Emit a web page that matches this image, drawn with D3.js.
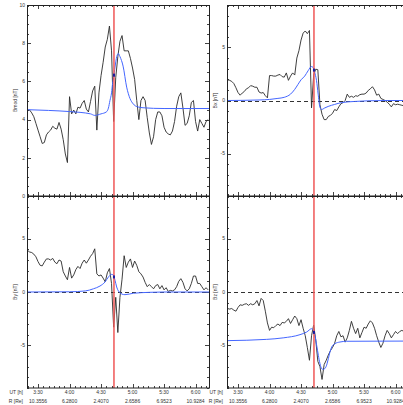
<!DOCTYPE html>
<html>
<head>
<meta charset="utf-8">
<script src="https://cdn.jsdelivr.net/npm/d3@7"></script>
<style>
  html, body { margin: 0; padding: 0; background: #fff; }
  svg { display: block; }
  text { font-family: "Liberation Sans", Arial, sans-serif; font-size: 5px; fill: #333; }
</style>
</head>
<body>
<svg id="chart" width="403" height="405"></svg>
<script>
// measured field, one sample every 2 minutes from 03:20 UT (minutes after 03:00)
const obsMinutes = d3.range(20, 193, 2);

const bmodObs = [4.47, 4.5, 4.35, 4.15, 3.8, 3.45, 3.1, 2.75, 2.8, 3.2,
  3.35, 3.45, 3.65, 3.55, 3.5, 3.85, 3.5, 2.95, 2.2, 1.75,
  5.2, 4.3, 4.5, 4.3, 4.65, 4.6, 4.85, 5.0, 4.55, 4.4,
  4.95, 5.5, 5.75, 3.45, 5.4, 6.3, 7.0, 7.8, 8.2, 8.9,
  7.6, 3.9, 6.2, 7.3, 8.1, 8.4, 7.6, 7.6, 7.6, 7.2,
  6.7, 6.1, 5.0, 4.0, 5.0, 5.2, 5.0, 4.1, 3.3, 2.7,
  3.1, 4.0, 4.4, 4.4, 4.2, 3.6, 3.35, 3.25, 3.2, 3.4,
  3.9, 4.7, 5.2, 5.4, 4.6, 3.7, 3.8, 4.2, 4.9, 5.0,
  3.9, 3.4, 4.0, 3.8, 3.6, 3.9, 4.0];

const bxObs = [1.95, 1.9, 1.8, 1.6, 1.2, 0.75, 0.5, 0.7, 0.85, 1.1,
  1.2, 1.4, 1.35, 1.25, 1.25, 0.8, 0.7, 0.75, 0.45, 0.25,
  2.35, 2.35, 2.3, 2.3, 2.4, 2.45, 2.25, 2.2, 2.6, 1.9,
  2.3, 2.6, 2.4, 4.0, 4.7, 5.7, 6.35, 6.55, 6.3, 6.6,
  -0.7, 2.4, 2.95, 2.9, -0.4, -1.3, -1.8, -1.8, -1.5, -1.4,
  -1.2, -0.85, -0.95, -0.6, -0.3, -0.2, 0, 0.6, 0.3, 0.4,
  0.3, 0.45, 0.4, 0.55, 0.6, 0.6, 0.7, 0.95, 1.1, 1.3,
  1.0, 0.5, 0.6, 0.2, 0.1, 0, -0.15, -0.35, -0.6, -0.3,
  -0.4, -0.35, -0.4, -0.45, -0.5, -0.5, -0.55];

const byObs = [3.9, 3.75, 3.7, 3.55, 3.3, 2.85, 2.5, 2.45, 2.8, 3.1,
  3.1, 3.0, 3.15, 2.8, 2.65, 3.0, 2.9, 1.9, 1.5, 1.15,
  2.3, 1.3, 1.6, 2.1, 2.4, 2.2, 2.7, 3.0, 2.7, 3.0,
  3.35, 3.6, 4.05, 1.7, 1.5, 1.6, 1.3, 0.95, 1.8, 2.2,
  0.8, -3.3, -0.5, -3.8, -0.5, 1.2, 3.4, 2.3, 2.8, 3.1,
  2.3, 2.9, 2.5, 1.9, 1.7, 1.4, 0.9, 0.5, 0.7, 0.5,
  0.3, 0.6, 0.7, 0.3, 0.6, 0.2, 0.4, 0.05, 0.15, 0.1,
  0.2, 0.5, 1.0, 1.25, 0.9, 0.3, 0.1, 0.3, 0.8, 1.5,
  1.5, 0.8, 0.8, 0.5, 0.2, 0.4, 0.2];

const bzObs = [-1.55, -1.6, -1.55, -1.7, -1.8, -1.45, -1.2, -1.25, -1.15, -1.1,
  -1.25, -1.1, -1.2, -1.1, -0.8, -1.3, -0.6, -0.8, -1.8, -2.9,
  -3.6, -3.3, -3.35, -3.15, -3.0, -3.15, -2.85, -2.9, -2.75, -2.5,
  -2.95, -2.6, -2.25, -2.5, -3.15, -2.6, -3.4, -4.1, -5.2, -6.4,
  -4.1, -3.1, -4.5, -6.5, -7.0, -8.2, -6.8, -6.4, -5.9, -5.5,
  -5.2, -4.8, -4.1, -3.7, -4.2, -4.1, -4.7, -4.3, -3.6, -2.75,
  -3.4, -3.9, -3.4, -4.3, -3.8, -3.3, -3.4, -3.0, -2.7, -2.9,
  -3.4, -4.1, -4.7, -5.2, -4.8, -4.1, -3.6, -3.9, -4.3, -4.0,
  -3.7, -3.9, -3.7, -3.6, -3.7, -3.6, -3.7];

// model field (blue), knots as minutes after 03:00 and nT
const bmodModelT = [19.5, 40, 60, 80, 84, 90, 95, 97, 98.5, 100, 101, 102, 103.3, 105, 106.5, 108, 111, 114.4, 117.6, 120.7, 124, 130, 150, 193];
const bmodModel  = [4.52, 4.48, 4.42, 4.3, 4.22, 4.3, 4.4, 4.6, 5.0, 5.4, 5.9, 6.2, 6.75, 7.3, 7.46, 7.3, 6.8, 5.7, 5.1, 4.82, 4.68, 4.62, 4.58, 4.58];

const bxModelT = [19.5, 50, 60, 68, 74, 80, 84, 87, 90, 93.5, 96.7, 99.9, 101.5, 103, 104.7, 106.3, 107.9, 109.5, 112.6, 115.8, 122, 128.4, 141, 153.6, 170, 193];
const bxModel  = [0, 0.05, 0.1, 0.2, 0.3, 0.6, 1.05, 1.5, 1.95, 2.3, 2.8, 3.2, 3.1, 2.66, 1.9, 0.6, -0.6, -0.85, -0.7, -0.56, -0.37, -0.2, -0.09, -0.03, 0, 0];

const byModelT = [19.5, 60, 75, 82.7, 89, 93.8, 97, 100, 101.7, 103.3, 104.9, 106.5, 108, 110, 112.8, 120.7, 136.6, 150, 193];
const byModel  = [0, 0.02, 0.1, 0.3, 0.56, 0.94, 1.4, 1.65, 1.6, 1.1, 0.47, 0.1, -0.06, -0.2, -0.25, -0.12, -0.03, 0, 0];

const bzModelT = [19.5, 57.3, 73, 89, 95.4, 100.1, 101.7, 103.3, 104.9, 106.5, 108, 109.7, 111.3, 113.8, 116, 117.6, 119.2, 122.3, 127, 133.4, 193];
const bzModel  = [-4.56, -4.44, -4.3, -4.0, -3.75, -3.44, -3.6, -4.1, -5.0, -5.94, -6.7, -7.2, -7.25, -7.0, -6.25, -5.6, -5.16, -4.84, -4.69, -4.62, -4.6];

// axis labels
const utTicks  = [30, 60, 90, 120, 150, 180];
const utLabels = ["3:30", "4:00", "4:30", "5:00", "5:30", "6:00"];
const rLabels  = ["10.3556", "6.2800", "2.4070", "2.6586", "6.9523", "10.9284"];
const closestApproach = 102.3;
const timeDomain = [19.5, 192.8];

const svg = d3.select("#chart");
const W = 182;

const panels = [
    { name: "Bmod [nT]", x0: 27, y0: 5, h: 191, domain: [0, 10], major: [0, 2, 4, 6, 8, 10], minorStep: 0.5,
      obs: bmodObs, modelT: bmodModelT, model: bmodModel, zero: false, bottom: false },
    { name: "Bx [nT]", x0: 227, y0: 5, h: 191, domain: [-9, 9], major: [-5, 0, 5], minorStep: 1,
      obs: bxObs, modelT: bxModelT, model: bxModel, zero: true, bottom: false },
    { name: "By [nT]", x0: 27, y0: 196, h: 192, domain: [-9, 9], major: [-5, 0, 5], minorStep: 1,
      obs: byObs, modelT: byModelT, model: byModel, zero: true, bottom: true },
    { name: "Bz [nT]", x0: 227, y0: 196, h: 192, domain: [-9, 9], major: [-5, 0, 5], minorStep: 1,
      obs: bzObs, modelT: bzModelT, model: bzModel, zero: true, bottom: true }
];

panels.forEach((p, i) => {
    const x = d3.scaleLinear().domain(timeDomain).range([p.x0, p.x0 + W]);
    const y = d3.scaleLinear().domain(p.domain).range([p.y0 + p.h, p.y0]);
    const g = svg.append("g");

    g.append("clipPath").attr("id", "clip" + i)
        .append("rect")
        .attr("x", p.x0).attr("y", p.y0).attr("width", W).attr("height", p.h);

    // ticks on all four sides, pointing inward
    const xMinor = d3.range(20, 193, 5);
    const yMinor = d3.range(p.domain[0], p.domain[1] + 0.001, p.minorStep);
    const tk = g.append("g").attr("stroke", "#444").attr("stroke-width", 1);
    xMinor.forEach(m => {
        const len = utTicks.includes(m) ? 4 : 2;
        const xx = Math.round(x(m)) + 0.5;
        tk.append("line").attr("x1", xx).attr("x2", xx).attr("y1", p.y0).attr("y2", p.y0 + len);
        tk.append("line").attr("x1", xx).attr("x2", xx).attr("y1", p.y0 + p.h).attr("y2", p.y0 + p.h - len);
    });
    yMinor.forEach(v => {
        const len = p.major.some(m => Math.abs(m - v) < 1e-6) ? 4 : 2;
        const yy = Math.round(y(v)) + 0.5;
        tk.append("line").attr("x1", p.x0).attr("x2", p.x0 + len).attr("y1", yy).attr("y2", yy);
        tk.append("line").attr("x1", p.x0 + W).attr("x2", p.x0 + W - len).attr("y1", yy).attr("y2", yy);
    });

    // y tick labels and axis title
    g.selectAll("text.ylab")
        .data(p.major)
        .join("text")
        .attr("class", "ylab")
        .attr("x", p.x0 - 2)
        .attr("y", d => y(d))
        .attr("dy", "0.35em")
        .attr("text-anchor", "end")
        .text(d => d);

    g.append("text")
        .attr("transform", `translate(${p.x0 - 10}, ${p.y0 + p.h / 2}) rotate(-90)`)
        .attr("text-anchor", "middle")
        .text(p.name);

    const plot = g.append("g").attr("clip-path", `url(#clip${i})`);

    if (p.zero) {
        plot.append("line")
            .attr("x1", p.x0).attr("x2", p.x0 + W)
            .attr("y1", Math.round(y(0)) + 0.5).attr("y2", Math.round(y(0)) + 0.5)
            .attr("stroke", "#333").attr("stroke-width", 1)
            .attr("stroke-dasharray", "4,3");
    }

    // measured field
    const obsLine = d3.line().x((d, k) => x(obsMinutes[k])).y(d => y(d));
    plot.append("path")
        .attr("d", obsLine(p.obs))
        .attr("fill", "none")
        .attr("stroke", "#2a2a2a")
        .attr("stroke-width", 0.9);

    // model field
    const modelLine = d3.line().curve(d3.curveMonotoneX)
        .x((d, k) => x(p.modelT[k])).y(d => y(d));
    plot.append("path")
        .attr("d", modelLine(p.model))
        .attr("fill", "none")
        .attr("stroke", "#4466ff")
        .attr("stroke-width", 1);

    // closest approach
    plot.append("line")
        .attr("x1", x(closestApproach)).attr("x2", x(closestApproach))
        .attr("y1", p.y0).attr("y2", p.y0 + p.h)
        .attr("stroke", "#f05a5a").attr("stroke-opacity", 0.85)
        .attr("stroke-width", 1.8);

    const mv = d3.scaleLinear().domain(p.modelT).range(p.model)(closestApproach);
    plot.append("rect")
        .attr("x", x(closestApproach) - 1).attr("y", y(mv) - 1.5)
        .attr("width", 2).attr("height", 3)
        .attr("fill", "#1a1aa0");

    // frame
    g.append("rect")
        .attr("x", p.x0 + 0.5).attr("y", p.y0 + 0.5)
        .attr("width", W).attr("height", p.h - 0.5)
        .attr("fill", "none").attr("stroke", "#222").attr("stroke-width", 1);

    if (p.bottom) {
        const rowUT = p.y0 + p.h + 5.5;
        const rowR = rowUT + 9;
        g.append("text").attr("x", p.x0 - 4).attr("y", rowUT).attr("text-anchor", "end").text("UT [h]");
        g.append("text").attr("x", p.x0 - 4).attr("y", rowR).attr("text-anchor", "end").text("R [Re]");
        utTicks.forEach((m, k) => {
            g.append("text").attr("x", x(m)).attr("y", rowUT).attr("text-anchor", "middle").text(utLabels[k]);
            g.append("text").attr("x", x(m)).attr("y", rowR).attr("text-anchor", "middle").text(rLabels[k]);
        });
    }
});
</script>
</body>
</html>
